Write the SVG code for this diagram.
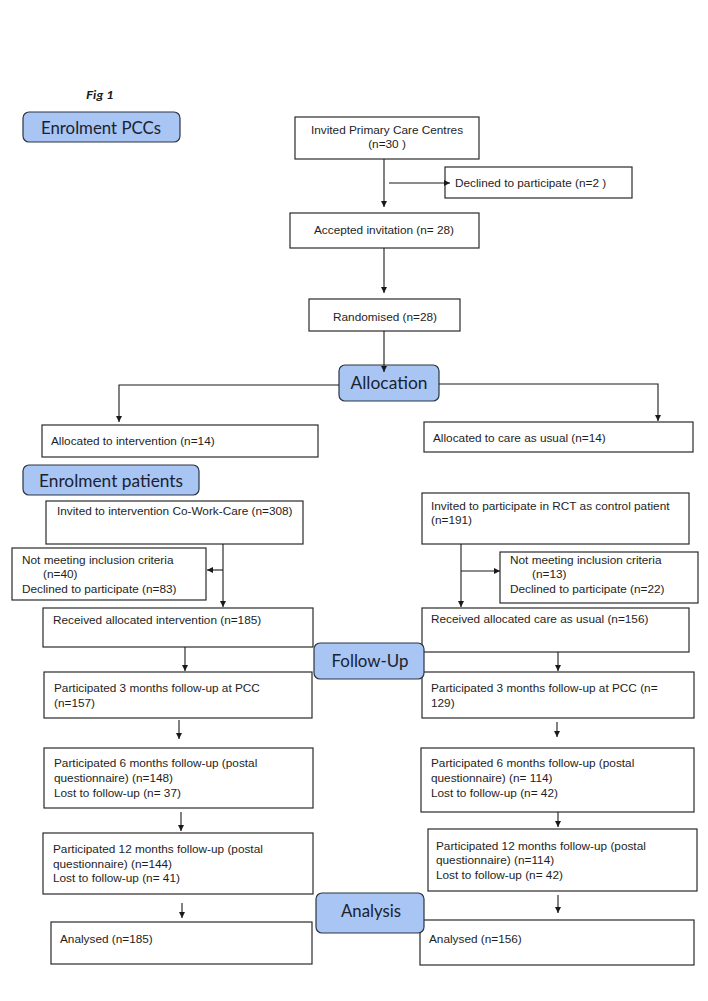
<svg xmlns="http://www.w3.org/2000/svg" width="708" height="1001" viewBox="0 0 708 1001">
<style>
.bg{fill:#ffffff}
.box{fill:#ffffff;stroke:#2a2a2a;stroke-width:1.2}
.stage{fill:#a8c5f4;stroke:#2c3442;stroke-width:1.2}
.t{font-family:"Liberation Sans",Arial,sans-serif;font-size:11.8px;fill:#1e1e1e}
.h{font-family:Lato,"Open Sans",sans-serif;font-size:16.5px;fill:#1a2230}
.fig{font-family:Lato,"Open Sans",sans-serif;font-size:11.5px;font-weight:bold;font-style:italic;fill:#1a1a1a}
.c{fill:none;stroke:#1a1a1a;stroke-width:1.1}
</style>
<defs>
<marker id="ah" markerUnits="userSpaceOnUse" markerWidth="7" markerHeight="7" refX="6" refY="3" orient="auto">
<path d="M0,0 L6,3 L0,6 z" fill="#1a1a1a"/>
</marker>
</defs>
<rect class="bg" x="0" y="0" width="708" height="1001"/>
<text class="fig" x="86" y="99" textLength="28" lengthAdjust="spacingAndGlyphs">Fig 1</text>

<g id="stage-enrol-pcc"><rect class="stage" x="23" y="112" width="157" height="30" rx="6"/><text class="h" x="101" y="134" text-anchor="middle" textLength="120" lengthAdjust="spacingAndGlyphs">Enrolment PCCs</text></g>
<g id="invited-pcc"><rect class="box" x="295" y="117" width="184" height="42"/><text class="t" x="387" y="134" text-anchor="middle">Invited Primary Care Centres</text><text class="t" x="387" y="148" text-anchor="middle">(n=30 )</text></g>
<g id="declined-pcc"><rect class="box" x="445" y="167" width="187" height="31"/><text class="t" x="455" y="187">Declined to participate (n=2 )</text></g>
<g id="accepted"><rect class="box" x="290" y="213" width="189" height="35"/><text class="t" x="384" y="234" text-anchor="middle">Accepted invitation (n= 28)</text></g>
<g id="randomised"><rect class="box" x="309" y="299" width="151" height="32"/><text class="t" x="385" y="321" text-anchor="middle">Randomised (n=28)</text></g>
<g id="stage-allocation"><rect class="stage" x="339" y="365" width="100" height="36" rx="6"/><text class="h" x="389" y="389" text-anchor="middle" textLength="77" lengthAdjust="spacingAndGlyphs">Allocation</text></g>
<g id="alloc-int"><rect class="box" x="42" y="425" width="276" height="32"/><text class="t" x="51" y="445">Allocated to intervention (n=14)</text></g>
<g id="alloc-cau"><rect class="box" x="424" y="422" width="269" height="30"/><text class="t" x="433" y="442">Allocated to care as usual (n=14)</text></g>
<g id="stage-enrol-pat"><rect class="stage" x="23" y="465" width="176" height="30" rx="6"/><text class="h" x="111" y="487" text-anchor="middle" textLength="144" lengthAdjust="spacingAndGlyphs">Enrolment patients</text></g>

<g id="invited-int"><rect class="box" x="46" y="501" width="257" height="43"/><text class="t" x="57" y="515">Invited to intervention Co-Work-Care (n=308)</text></g>
<g id="invited-ctrl"><rect class="box" x="422" y="493" width="267" height="51"/><text class="t" x="431" y="510">Invited to participate in RCT as control patient</text><text class="t" x="431" y="524">(n=191)</text></g>
<g id="excl-int"><rect class="box" x="12" y="548" width="194" height="52"/><text class="t" x="22" y="564">Not meeting inclusion criteria</text><text class="t" x="43" y="578">(n=40)</text><text class="t" x="22" y="593">Declined to participate (n=83)</text></g>
<g id="excl-ctrl"><rect class="box" x="500" y="552" width="198" height="51"/><text class="t" x="510" y="564">Not meeting inclusion criteria</text><text class="t" x="532" y="578">(n=13)</text><text class="t" x="510" y="593">Declined to participate (n=22)</text></g>
<g id="recv-int"><rect class="box" x="43" y="608" width="270" height="39"/><text class="t" x="53" y="624">Received allocated intervention (n=185)</text></g>
<g id="recv-ctrl"><rect class="box" x="422" y="608" width="267" height="44"/><text class="t" x="431" y="623">Received allocated care as usual (n=156)</text></g>

<g id="fu3-int"><rect class="box" x="44" y="672" width="268" height="46"/><text class="t" x="54" y="692">Participated 3 months follow-up at PCC</text><text class="t" x="54" y="707">(n=157)</text></g>
<g id="fu3-ctrl"><rect class="box" x="422" y="672" width="272" height="46"/><text class="t" x="431" y="692">Participated 3 months follow-up at PCC (n=</text><text class="t" x="431" y="707">129)</text></g>
<g id="stage-fu"><rect class="stage" x="314" y="643" width="110" height="36" rx="6"/><text class="h" x="370" y="667" text-anchor="middle" textLength="77" lengthAdjust="spacingAndGlyphs">Follow-Up</text></g>

<g id="fu6-int"><rect class="box" x="44" y="748" width="269" height="60"/><text class="t" x="54" y="767">Participated 6 months follow-up (postal</text><text class="t" x="54" y="782">questionnaire) (n=148)</text><text class="t" x="54" y="797">Lost to follow-up (n= 37)</text></g>
<g id="fu6-ctrl"><rect class="box" x="421" y="748" width="273" height="64"/><text class="t" x="431" y="767">Participated 6 months follow-up (postal</text><text class="t" x="431" y="782">questionnaire) (n= 114)</text><text class="t" x="431" y="797">Lost to follow-up (n= 42)</text></g>
<g id="fu12-int"><rect class="box" x="43" y="833" width="270" height="61"/><text class="t" x="53" y="853">Participated 12 months follow-up (postal</text><text class="t" x="53" y="868">questionnaire) (n=144)</text><text class="t" x="53" y="882">Lost to follow-up (n= 41)</text></g>
<g id="fu12-ctrl"><rect class="box" x="428" y="829" width="269" height="62"/><text class="t" x="436" y="850">Participated 12 months follow-up (postal</text><text class="t" x="436" y="864">questionnaire) (n=114)</text><text class="t" x="436" y="879">Lost to follow-up (n= 42)</text></g>

<g id="analysed-int"><rect class="box" x="51" y="922" width="261" height="42"/><text class="t" x="60" y="943">Analysed (n=185)</text></g>
<g id="analysed-ctrl"><rect class="box" x="420" y="920" width="274" height="45"/><text class="t" x="429" y="943">Analysed (n=156)</text></g>
<g id="stage-analysis"><rect class="stage" x="316" y="893" width="108" height="40" rx="6"/><text class="h" x="371" y="917" text-anchor="middle" textLength="60" lengthAdjust="spacingAndGlyphs">Analysis</text></g>

<g id="connectors">
<path class="c" d="M384,159 V207" marker-end="url(#ah)"/>
<path class="c" d="M389,183 H450" marker-end="url(#ah)"/>
<path class="c" d="M384,248 V293" marker-end="url(#ah)"/>
<path class="c" d="M384,331 V372" marker-end="url(#ah)"/>
<path class="c" d="M339,385 H119 V422" marker-end="url(#ah)"/>
<path class="c" d="M439,384 H658 V421" marker-end="url(#ah)"/>
<path class="c" d="M223,544 V607" marker-end="url(#ah)"/>
<path class="c" d="M223,570 H207" marker-end="url(#ah)"/>
<path class="c" d="M461,544 V607" marker-end="url(#ah)"/>
<path class="c" d="M461,571 H500" marker-end="url(#ah)"/>
<path class="c" d="M185,647 V671" marker-end="url(#ah)"/>
<path class="c" d="M558,652 V671" marker-end="url(#ah)"/>
<path class="c" d="M179,720 V739" marker-end="url(#ah)"/>
<path class="c" d="M557,722 V737" marker-end="url(#ah)"/>
<path class="c" d="M181,812 V831" marker-end="url(#ah)"/>
<path class="c" d="M558,812 V827" marker-end="url(#ah)"/>
<path class="c" d="M182,903 V918" marker-end="url(#ah)"/>
<path class="c" d="M558,895 V913" marker-end="url(#ah)"/>
</g>
</svg>
